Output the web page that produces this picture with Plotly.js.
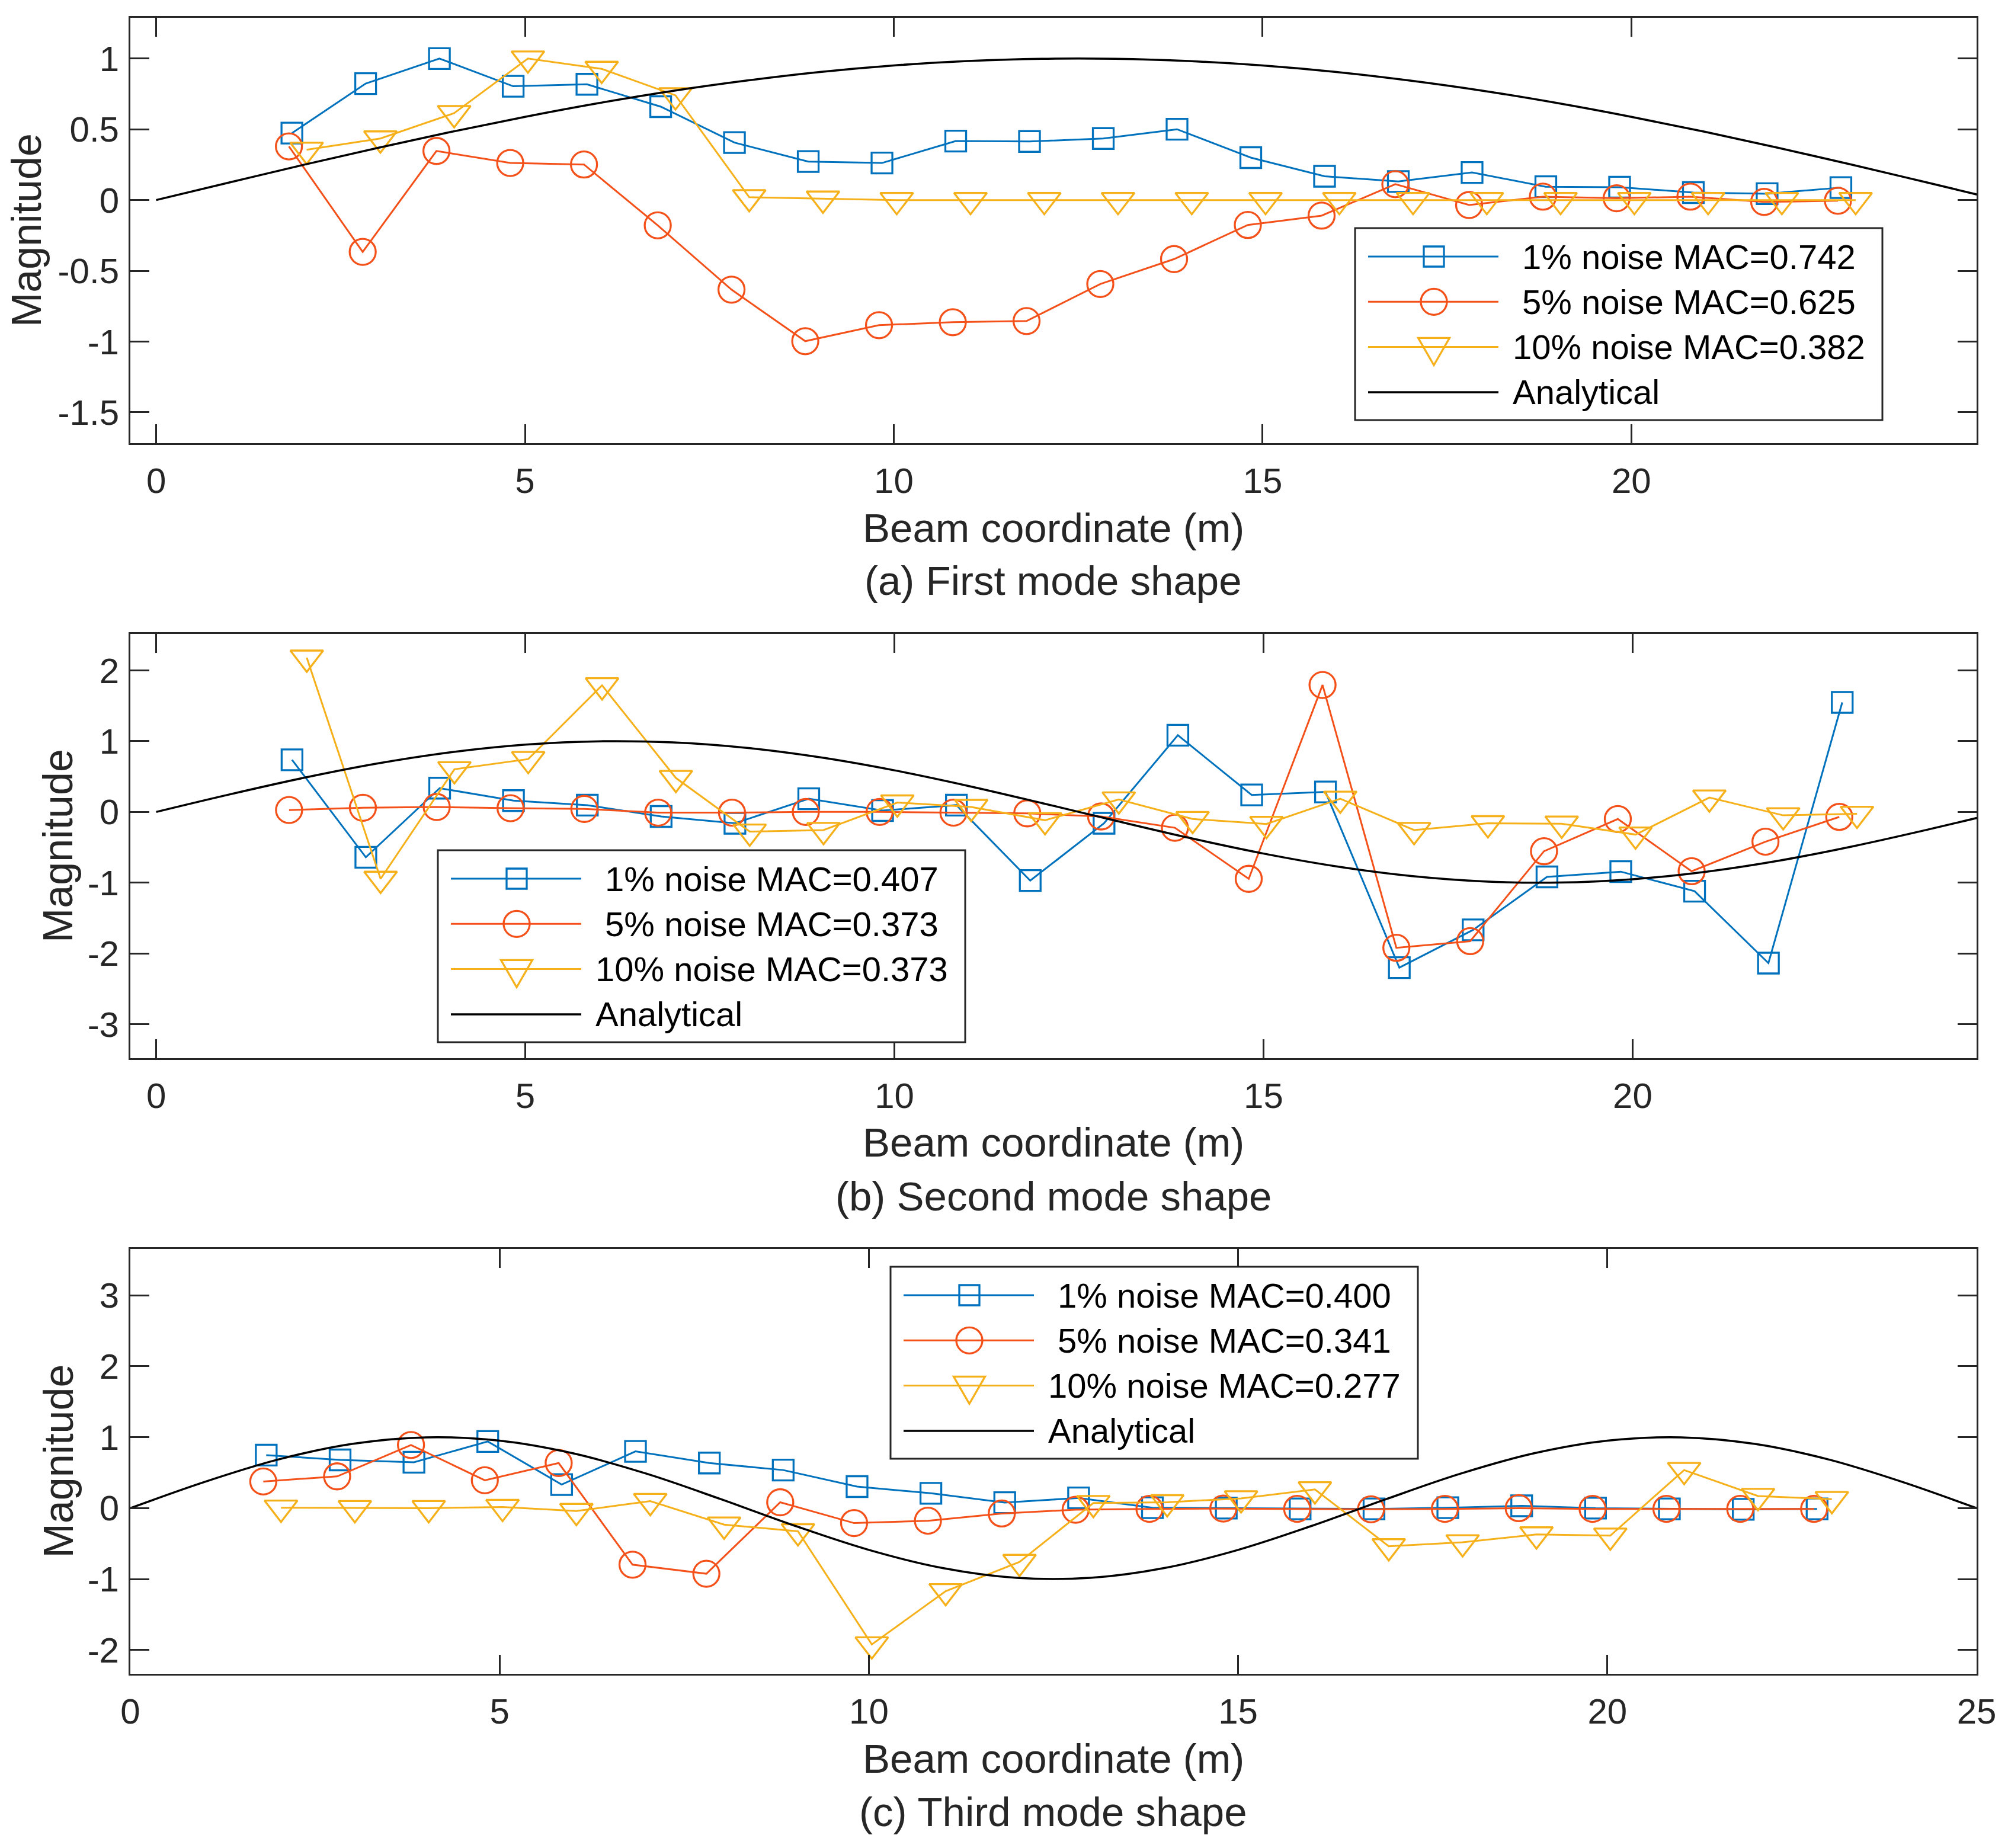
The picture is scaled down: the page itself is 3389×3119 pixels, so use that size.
<!DOCTYPE html>
<html>
<head>
<meta charset="utf-8">
<script src="https://cdn.plot.ly/plotly-3.0.1.min.js"></script>
<style>html,body{margin:0;padding:0;background:#fff}</style>
</head>
<body>
<div id="chart" style="width:3389px;height:3119px"></div>
<script>
// ---------------- data ----------------
const xSquare = [1.84, 2.84, 3.84, 4.84, 5.84, 6.84, 7.84, 8.84, 9.84, 10.84, 11.84, 12.84, 13.84, 14.84, 15.84, 16.84, 17.84, 18.84, 19.84, 20.84, 21.84, 22.84];
const xCircle = [1.80, 2.80, 3.80, 4.80, 5.80, 6.80, 7.80, 8.80, 9.80, 10.80, 11.80, 12.80, 13.80, 14.80, 15.80, 16.80, 17.80, 18.80, 19.80, 20.80, 21.80, 22.80];
const xTriangle = [2.04, 3.04, 4.04, 5.04, 6.04, 7.04, 8.04, 9.04, 10.04, 11.04, 12.04, 13.04, 14.04, 15.04, 16.04, 17.04, 18.04, 19.04, 20.04, 21.04, 22.04, 23.04];

// (a) first mode shape
const mode1_noise1  = [0.473, 0.823, 1.0, 0.804, 0.818, 0.66, 0.406, 0.272, 0.262, 0.417, 0.414, 0.435, 0.50, 0.30, 0.168, 0.131, 0.195, 0.094, 0.091, 0.053, 0.045, 0.088];
const mode1_noise5  = [0.379, -0.366, 0.347, 0.262, 0.251, -0.179, -0.633, -0.997, -0.884, -0.863, -0.855, -0.593, -0.417, -0.176, -0.11, 0.112, -0.035, 0.024, 0.013, 0.024, -0.013, -0.005];
const mode1_noise10 = [0.355, 0.435, 0.614, 1.0, 0.927, 0.74, 0.02, 0.01, 0.0, 0.0, 0.0, 0.0, 0.0, 0.0, 0.0, 0.0, 0.0, 0.0, 0.0, 0.0, 0.0, 0.0];

// (b) second mode shape
const mode2_noise1  = [0.737, -0.64, 0.336, 0.16, 0.096, -0.064, -0.16, 0.187, 0.02, 0.096, -0.97, -0.16, 1.084, 0.24, 0.283, -2.2, -1.666, -0.918, -0.844, -1.12, -2.136, 1.548];
const mode2_noise5  = [0.027, 0.059, 0.07, 0.053, 0.043, -0.01, -0.01, 0.0, 0.0, -0.01, -0.02, -0.064, -0.224, -0.945, 1.794, -1.92, -1.826, -0.555, -0.1, -0.838, -0.42, -0.07];
const mode2_noise10 = [2.18, -0.945, 0.603, 0.747, 1.789, 0.48, -0.278, -0.256, 0.133, 0.07, -0.117, 0.176, -0.1, -0.17, 0.187, -0.256, -0.16, -0.166, -0.32, 0.203, -0.048, -0.027];

// (c) third mode shape
const mode3_noise1  = [0.747, 0.68, 0.647, 0.94, 0.332, 0.80, 0.636, 0.537, 0.304, 0.21, 0.078, 0.144, 0.006, 0.0, -0.01, -0.01, 0.006, 0.033, 0.0, -0.01, -0.017, -0.01];
const mode3_noise5  = [0.376, 0.448, 0.89, 0.393, 0.636, -0.796, -0.924, 0.083, -0.21, -0.177, -0.075, -0.022, -0.01, -0.006, -0.01, -0.016, -0.01, 0.0, -0.01, -0.01, -0.01, -0.01];
const mode3_noise10 = [0.006, 0.0, 0.0, 0.017, -0.04, 0.1, -0.232, -0.326, -1.92, -1.17, -0.758, 0.072, 0.083, 0.138, 0.265, -0.537, -0.481, -0.37, -0.387, 0.537, 0.171, 0.127];

// analytical mode shapes
const xAnalytical = [0, 1, 2, 3, 4, 5, 6, 7, 8, 9, 10, 11, 12, 13, 14, 15, 16, 17, 18, 19, 20, 21, 22, 23, 24, 25];
const analytical1 = [0, 0.125, 0.249, 0.368, 0.482, 0.588, 0.685, 0.771, 0.844, 0.905, 0.951, 0.982, 0.998, 0.998, 0.982, 0.951, 0.905, 0.844, 0.771, 0.685, 0.588, 0.482, 0.368, 0.249, 0.125, 0];
const analytical2 = [0, 0.249, 0.482, 0.685, 0.844, 0.951, 0.998, 0.982, 0.905, 0.771, 0.588, 0.368, 0.125, -0.125, -0.368, -0.588, -0.771, -0.905, -0.982, -0.998, -0.951, -0.844, -0.685, -0.482, -0.249, 0];
const analytical3 = [0, 0.368, 0.685, 0.905, 0.998, 0.951, 0.771, 0.482, 0.125, -0.249, -0.588, -0.844, -0.982, -0.982, -0.844, -0.588, -0.249, 0.125, 0.482, 0.771, 0.951, 0.998, 0.905, 0.685, 0.368, 0];

const legendA = ['\u00A01% noise MAC=0.742', '\u00A05% noise MAC=0.625', '10% noise MAC=0.382', 'Analytical'];
const legendB = ['\u00A01% noise MAC=0.407', '\u00A05% noise MAC=0.373', '10% noise MAC=0.373', 'Analytical'];
const legendC = ['\u00A01% noise MAC=0.400', '\u00A05% noise MAC=0.341', '10% noise MAC=0.277', 'Analytical'];

const captions = ['(a) First mode shape', '(b) Second mode shape', '(c) Third mode shape'];
const xTitle = 'Beam coordinate (m)';
const yTitle = 'Magnitude';

const xTicksAB = [0, 5, 10, 15, 20];
const xTickTextAB = ['0', '5', '10', '15', '20'];
const xTicksC = [0, 5, 10, 15, 20, 25];
const xTickTextC = ['0', '5', '10', '15', '20', '25'];
const yTicksA = [-1.5, -1, -0.5, 0, 0.5, 1];
const yTickTextA = ['-1.5', '-1', '-0.5', '0', '0.5', '1'];
const yTicksB = [-3, -2, -1, 0, 1, 2];
const yTickTextB = ['-3', '-2', '-1', '0', '1', '2'];
const yTicksC = [-2, -1, 0, 1, 2, 3];
const yTickTextC = ['-2', '-1', '0', '1', '2', '3'];

// ---------------- style ----------------
const W = 3389, H = 3119;
const FONT = '"Liberation Sans", Arial, Helvetica, sans-serif';
const INK = '#262626';
const C1 = '#0072BD', C2 = '#F4511A', C3 = '#F5B01A';
const fx = p => p / W;
const fy = p => 1 - p / H;
const plotL = 220, plotR = 3336;

const panels = [
  {top: 30,   bottom: 748,  xr: [-0.35, 24.68], yr: [-1.718, 1.288], xt: xTicksAB, xtt: xTickTextAB, yt: yTicksA, ytt: yTickTextA,
   d: [mode1_noise1, mode1_noise5, mode1_noise10], an: analytical1, leg: legendA, legL: 2287, legT: 385, ytx: 45},
  {top: 1070, bottom: 1786, xr: [-0.35, 24.66], yr: [-3.48, 2.515], xt: xTicksAB, xtt: xTickTextAB, yt: yTicksB, ytt: yTickTextB,
   d: [mode2_noise1, mode2_noise5, mode2_noise10], an: analytical2, leg: legendB, legL: 739, legT: 1435, ytx: 98},
  {top: 2108, bottom: 2825, xr: [0, 25], yr: [-2.334, 3.652], xt: xTicksC, xtt: xTickTextC, yt: yTicksC, ytt: yTickTextC,
   d: [mode3_noise1, mode3_noise5, mode3_noise10], an: analytical3, leg: legendC, legL: 1503, legT: 2138, ytx: 98}
];

const traces = [];
const layout = {
  width: W, height: H,
  margin: {l: 0, r: 0, t: 0, b: 0},
  paper_bgcolor: '#fff', plot_bgcolor: '#fff',
  showlegend: false,
  font: {family: FONT, color: INK},
  shapes: [], annotations: []
};

const xs = [xSquare, xCircle, xTriangle];
const cols = [C1, C2, C3];
const syms = ['square-open', 'circle-open', 'triangle-down-open'];
const sizes = [35, 44, 48];

panels.forEach((p, i) => {
  const sfx = i === 0 ? '' : String(i + 1);
  const xa = 'x' + sfx, ya = 'y' + sfx;
  for (let k = 0; k < 3; k++) {
    traces.push({
      type: 'scatter', mode: 'lines+markers', x: xs[k], y: p.d[k], xaxis: xa, yaxis: ya,
      line: {color: cols[k], width: 3},
      marker: {symbol: syms[k], size: sizes[k], color: cols[k], line: {color: cols[k], width: 3.3}},
      name: p.leg[k], hoverinfo: 'skip'
    });
  }
  traces.push({
    type: 'scatter', mode: 'lines', x: xAnalytical, y: p.an, xaxis: xa, yaxis: ya,
    line: {color: '#000', width: 3.5, shape: 'spline', smoothing: 1},
    name: 'Analytical', hoverinfo: 'skip'
  });

  const axCommon = {
    ticks: 'inside', ticklen: 32, tickwidth: 3, tickcolor: INK,
    showline: true, linewidth: 3, linecolor: INK, mirror: 'ticks',
    showgrid: false, zeroline: false,
    tickfont: {family: FONT, size: 60, color: INK},
    tickmode: 'array', fixedrange: true
  };
  layout['xaxis' + sfx] = Object.assign({}, axCommon, {
    domain: [fx(plotL), fx(plotR)], range: p.xr, anchor: ya,
    tickvals: p.xt, ticktext: p.xtt, ticklabelstandoff: 9
  });
  layout['yaxis' + sfx] = Object.assign({}, axCommon, {
    domain: [fy(p.bottom), fy(p.top)], range: p.yr, anchor: xa,
    tickvals: p.yt, ticktext: p.ytt, ticklabelstandoff: 4
  });

  // axis titles and caption
  layout.annotations.push({xref: 'paper', yref: 'paper', x: fx((plotL + plotR) / 2), y: fy(p.bottom + 143),
    xanchor: 'center', yanchor: 'middle', showarrow: false, text: xTitle, font: {family: FONT, size: 69, color: INK}});
  layout.annotations.push({xref: 'paper', yref: 'paper', x: fx((plotL + plotR) / 2), y: fy(p.bottom + 233),
    xanchor: 'center', yanchor: 'middle', showarrow: false, text: captions[i], font: {family: FONT, size: 69, color: INK}});
  layout.annotations.push({xref: 'paper', yref: 'paper', x: fx(p.ytx), y: fy((p.top + p.bottom) / 2),
    xanchor: 'center', yanchor: 'middle', showarrow: false, textangle: -90, text: yTitle, font: {family: FONT, size: 70, color: INK}});

  // legend box
  const L = p.legL, T = p.legT, BW = 890, BH = 324;
  layout.shapes.push({type: 'rect', xref: 'paper', yref: 'paper', x0: fx(L), x1: fx(L + BW), y0: fy(T + BH), y1: fy(T),
    fillcolor: '#fff', line: {color: INK, width: 3}, layer: 'above'});
  const lcols = [C1, C2, C3, '#000'];
  for (let r = 0; r < 4; r++) {
    const cy = T + 48 + r * 76.3;
    const cx = L + 133;
    layout.shapes.push({type: 'line', xref: 'paper', yref: 'paper', x0: fx(L + 22), x1: fx(L + 242), y0: fy(cy), y1: fy(cy),
      line: {color: lcols[r], width: r === 3 ? 3.5 : 3}, layer: 'above'});
    if (r === 0) {
      layout.shapes.push({type: 'rect', xref: 'paper', yref: 'paper', x0: fx(cx - 17), x1: fx(cx + 17), y0: fy(cy + 17), y1: fy(cy - 17),
        line: {color: C1, width: 3.3}, layer: 'above'});
    } else if (r === 1) {
      layout.shapes.push({type: 'circle', xref: 'paper', yref: 'paper', x0: fx(cx - 22), x1: fx(cx + 22), y0: fy(cy + 22), y1: fy(cy - 22),
        line: {color: C2, width: 3.3}, layer: 'above'});
    } else if (r === 2) {
      const path = 'M' + fx(cx - 26.5) + ',' + fy(cy - 15.3) + ' L' + fx(cx + 26.5) + ',' + fy(cy - 15.3) + ' L' + fx(cx) + ',' + fy(cy + 30.7) + ' Z';
      layout.shapes.push({type: 'path', xref: 'paper', yref: 'paper', path: path, line: {color: C3, width: 3.3}, layer: 'above'});
    }
    layout.annotations.push({xref: 'paper', yref: 'paper', x: fx(L + 264), y: fy(cy), xanchor: 'left', yanchor: 'middle',
      showarrow: false, text: p.leg[r], font: {family: FONT, size: 58, color: '#000'}});
  }
});

Plotly.newPlot('chart', traces, layout, {staticPlot: true, displayModeBar: false});
</script>
</body>
</html>
